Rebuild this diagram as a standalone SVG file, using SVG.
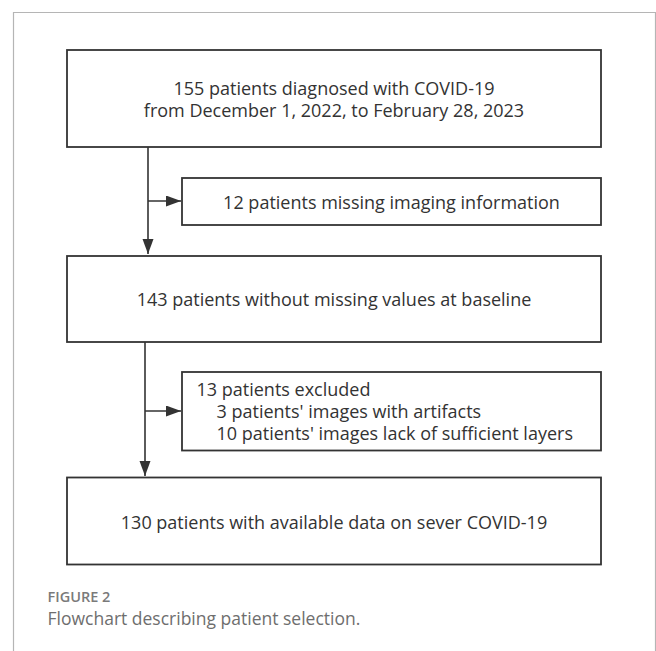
<svg xmlns="http://www.w3.org/2000/svg" width="656" height="651" viewBox="0 0 656 651">
  <style>
    .box { fill: #ffffff; stroke: #333333; stroke-width: 1.8; }
    .t { font-family: "Open Sans", "Noto Sans", "Liberation Sans", sans-serif; font-size: 18px; fill: #333333; }
    .c { text-anchor: middle; }
    .conn { stroke: #333333; stroke-width: 1.6; fill: none; }
    .frame { stroke: #b5b5b5; stroke-width: 1.2; fill: none; }
    .caph { font-family: "Open Sans", "Lato", "Liberation Sans", sans-serif; font-size: 14.5px; font-weight: 600; fill: #7a7a7a; }
    .capt { font-family: "Open Sans", "Lato", "Liberation Sans", sans-serif; font-size: 17.5px; fill: #6e6e6e; }
  </style>
  <defs>
    <marker id="arrow" markerUnits="userSpaceOnUse" markerWidth="16" markerHeight="12" refX="15" refY="5.5" orient="auto">
      <path d="M0,0 L15,5.5 L0,11 z" fill="#333333"/>
    </marker>
  </defs>
  <rect width="656" height="651" fill="#ffffff"/>
  <path class="frame" d="M13.5,651 V12.5 H655.5 V651"/>

  <g id="connectors">
    <path class="conn" d="M148,147 V254" marker-end="url(#arrow)"/>
    <path class="conn" d="M148,201 H181" marker-end="url(#arrow)"/>
    <path class="conn" d="M145,342 V476" marker-end="url(#arrow)"/>
    <path class="conn" d="M145,411 H181" marker-end="url(#arrow)"/>
  </g>

  <g id="node-total">
    <rect class="box" x="67" y="50" width="534" height="97"/>
    <text class="t c" x="334" y="95">155 patients diagnosed with COVID-19</text>
    <text class="t c" x="334" y="117">from December 1, 2022, to February 28, 2023</text>
  </g>

  <g id="node-missing-imaging">
    <rect class="box" x="182" y="178" width="419" height="47"/>
    <text class="t c" x="391.5" y="209">12 patients missing imaging information</text>
  </g>

  <g id="node-baseline">
    <rect class="box" x="67" y="256" width="534" height="86"/>
    <text class="t c" x="334" y="306">143 patients without missing values at baseline</text>
  </g>

  <g id="node-excluded">
    <rect class="box" x="182" y="372" width="419" height="78.5"/>
    <text class="t" x="196.5" y="396">13 patients excluded</text>
    <text class="t" x="216.5" y="418">3 patients' images with artifacts</text>
    <text class="t" x="216.5" y="440">10 patients' images lack of sufficient layers</text>
  </g>

  <g id="node-final">
    <rect class="box" x="67" y="477.5" width="534" height="87"/>
    <text class="t c" x="334" y="529">130 patients with available data on sever COVID-19</text>
  </g>

  <text class="caph" x="47.5" y="602">FIGURE 2</text>
  <text class="capt" x="47.5" y="625">Flowchart describing patient selection.</text>
</svg>
